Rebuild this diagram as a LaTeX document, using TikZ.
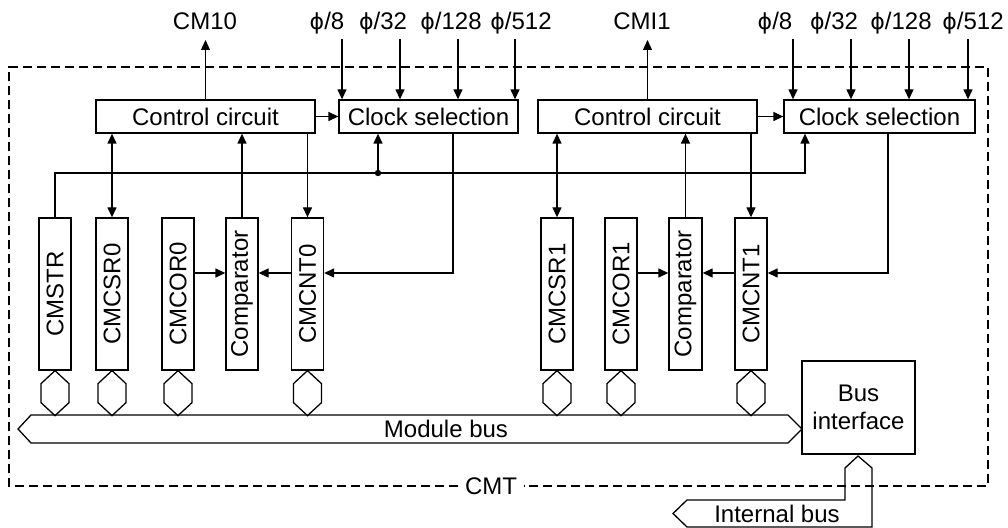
\documentclass[tikz,border=0pt]{standalone}
\usepackage{fontspec}
\setmainfont{Liberation Sans}
\newfontfamily\phifont{DejaVu Sans}[Scale=0.92]
\usetikzlibrary{arrows.meta}
\newcommand{\myphi}{{\phifont\symbol{"03D5}}}
\begin{document}
\begin{tikzpicture}[x=0.5pt,y=-0.5pt, line width=0.65pt,
  every node/.style={font=\fontsize{12}{14}\selectfont, inner sep=0pt},
  blk/.style={draw, minimum height=16.5pt},
  reg/.style={draw, minimum width=16pt, minimum height=76pt},
  arr/.style={-{Triangle[length=5pt,width=4.5pt]}},
  darr/.style={{Triangle[length=5pt,width=4.5pt]}-{Triangle[length=5pt,width=4.5pt]}},
  lbl/.style={anchor=base},
  frame/.style={dash pattern=on 4.5pt off 2.5pt}]
\useasboundingbox (0,0) rectangle (1008,528);

% blocks
\node[blk, minimum width=109.5pt] (cc1) at (205.5,116.5) {Control circuit};
\node[blk, minimum width=89.5pt]  (cs1) at (428.5,116.5) {Clock selection};
\node[blk, minimum width=109.5pt] (cc2) at (647.5,116.5) {Control circuit};
\node[blk, minimum width=95.5pt]  (cs2) at (879.5,116.5) {Clock selection};

% registers
\node[reg] (cmstr) at (55,294)    {\rotatebox{90}{CMSTR}};
\node[reg] (csr0)  at (112,294)   {\rotatebox{90}{CMCSR0}};
\node[reg] (cor0)  at (178,294)   {\rotatebox{90}{CMCOR0}};
\node[reg] (cmp0)  at (242,294)   {\rotatebox{90}{Comparator}};
\node[reg] (cnt0)  at (307.5,294) {\rotatebox{90}{CMCNT0}};
\node[reg] (csr1)  at (557,294)   {\rotatebox{90}{CMCSR1}};
\node[reg] (cor1)  at (621,294)   {\rotatebox{90}{CMCOR1}};
\node[reg, minimum width=16.5pt] (cmp1) at (685.5,294) {\rotatebox{90}{Comparator}};
\node[reg] (cnt1)  at (751,294)   {\rotatebox{90}{CMCNT1}};

\node[draw, minimum width=56.5pt, minimum height=46.5pt, align=center] (bif) at (858.5,407.5) {Bus\\interface};

% top labels
\node[lbl] (cm10) at (205,30) {CM10};
\node[lbl] (cmi1) at (642,30) {CMI1};
\coordinate (cm10a) at (205,40);
\coordinate (cmi1a) at (643,40);
\draw[arr] (cc1.north) -- (cc1.north |- cm10a);
\draw[arr] (cc2.north) -- (cc2.north |- cmi1a);

\node[lbl] (pa1) at (327,30) {\myphi/8};
\node[lbl] (pa2) at (383,30) {\myphi/32};
\node[lbl] (pa3) at (451,30) {\myphi/128};
\node[lbl] (pa4) at (521,30) {\myphi/512};
\node[lbl] (pb1) at (775,30) {\myphi/8};
\node[lbl] (pb2) at (834,30) {\myphi/32};
\node[lbl] (pb3) at (901,30) {\myphi/128};
\node[lbl] (pb4) at (973,30) {\myphi/512};
\foreach \x [count=\i] in {342,400,458,515} {
  \coordinate (ta\i) at (\x,39);
  \draw[arr] (ta\i) -- (ta\i |- cs1.north);
}
\foreach \x [count=\i] in {793,851,909,968} {
  \coordinate (tb\i) at (\x,39);
  \draw[arr] (tb\i) -- (tb\i |- cs2.north);
}

% control -> clock selection
\draw[arr] (cc1.east) -- (cs1.west);
\draw[arr] (cc2.east) -- (cs2.west);

% left channel
\draw[darr] (csr0.north) -- (csr0.north |- cc1.south);
\draw[arr] (cmp0.north) -- (cmp0.north |- cc1.south);
\draw[arr] (cc1.south -| cnt0.north) -- (cnt0.north);
\coordinate (j) at (378,173);
\coordinate (k) at (805,173);
\draw[arr] (cmstr.north) |- (k) -- (k |- cs2.south);
\fill (j) circle (1.6pt);
\draw[arr] (j) -- (j |- cs1.south);
\coordinate (m0) at (453,273);
\draw[arr] (cs1.south -| m0) -- (m0) -- (m0 -| cnt0.east);
\draw[arr] (cor0.east |- m0) -- (cmp0.west |- m0);
\draw[arr] (cnt0.west |- m0) -- (cmp0.east |- m0);

% right channel
\draw[darr] (csr1.north) -- (csr1.north |- cc2.south);
\draw[arr] (cmp1.north) -- (cmp1.north |- cc2.south);
\draw[arr] (cc2.south -| cnt1.north) -- (cnt1.north);
\coordinate (m1) at (888,273);
\draw[arr] (cs2.south -| m1) -- (m1) -- (m1 -| cnt1.east);
\draw[arr] (cor1.east |- m1) -- (cmp1.west |- m1);
\draw[arr] (cnt1.west |- m1) -- (cmp1.east |- m1);

% bus connectors
\foreach \n in {cmstr,csr0,cor0,cnt0,csr1,cor1,cnt1}
  \draw (\n.south) -- ++(-14,13) -- ++(0,19) -- ++(14,13) -- ++(14,-13) -- ++(0,-19) -- cycle;

% module bus
\draw (31,415) -- (788,415) -- (802,429) -- (788,443) -- (31,443) -- (18,429) -- cycle;
\node (mbus) at (446,429) {Module bus};

% internal bus
\draw (858,456) -- (872,468) -- (872,527) -- (687,527) -- (673,513.5) -- (687,500) -- (845,500) -- (845,468) -- cycle;
\node (ibus) at (777,513.5) {Internal bus};

% CMT frame
\node (cmt) at (491,486) {CMT};
\draw[frame] ([xshift=-3pt]cmt.west) -| (9,67) -| (988,486) -- ([xshift=3pt]cmt.east);
\end{tikzpicture}
\end{document}
